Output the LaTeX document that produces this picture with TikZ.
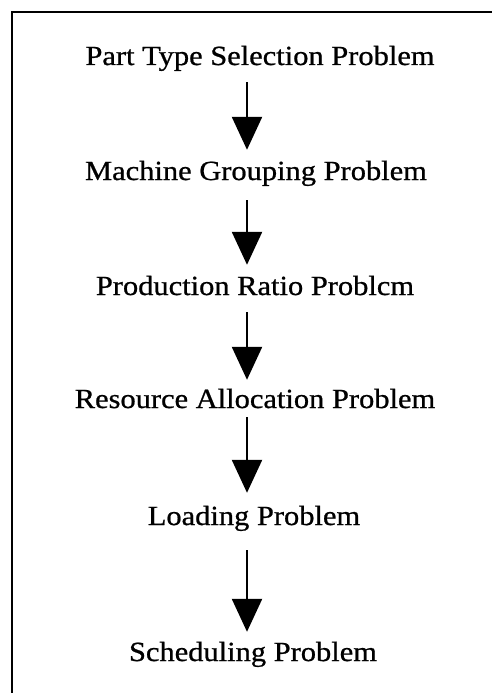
\documentclass[tikz,border=0pt]{standalone}
\usepackage{fontspec}
\setmainfont[FakeStretch=1.1, FakeBold=0.8]{Liberation Serif}
\usetikzlibrary{arrows.meta}

\tikzset{
  stage/.style={anchor=base, inner sep=0pt, text height=18pt, text depth=6pt,
                font=\fontsize{27.7}{32}\selectfont},
  flow/.style={line width=2.4pt, -{Triangle[length=33pt,width=30pt]}},
  frameline/.style={line width=2.6pt}
}

\begin{document}
\begin{tikzpicture}[x=1pt, y=-1pt]
  \useasboundingbox (0,0) rectangle (492,693);

  % open frame: top and left rules
  \draw[frameline] (492,12) -- (12,12) -- (12,693);

  % vertical axis of the arrows
  \coordinate (axis) at (247,0);

  % stages of the problem hierarchy
  \node[stage] (s1) at (260,65)  {Part Type Selection Problem};
  \node[stage] (s2) at (256,180) {Machine Grouping Problem};
  \node[stage] (s3) at (255,295) {Production Ratio Problcm};
  \node[stage] (s4) at (255,408) {Resource Allocation Problem};
  \node[stage] (s5) at (254,525) {Loading Problem};
  \node[stage] (s6) at (253,661) {Scheduling Problem};

  % arrows between consecutive stages
  \draw[flow, shorten <=11pt, shorten >=12pt] (s1.south -| axis) -- (s2.north -| axis);
  \draw[flow, shorten <=14pt, shorten >=12pt] (s2.south -| axis) -- (s3.north -| axis);
  \draw[flow, shorten <=11pt, shorten >=10pt] (s3.south -| axis) -- (s4.north -| axis);
  \draw[flow, shorten <=3pt,  shorten >=14pt] (s4.south -| axis) -- (s5.north -| axis);
  \draw[flow, shorten <=19pt, shorten >=11pt] (s5.south -| axis) -- (s6.north -| axis);
\end{tikzpicture}
\end{document}
